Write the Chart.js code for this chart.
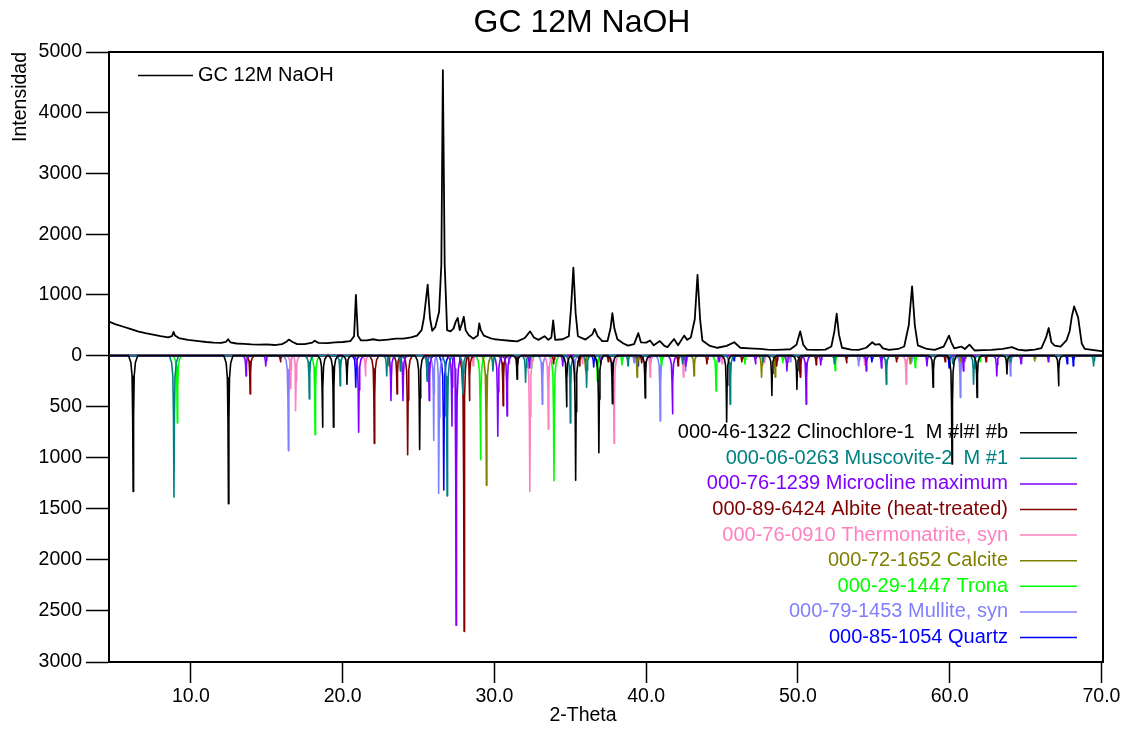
<!DOCTYPE html>
<html><head><meta charset="utf-8">
<script src="https://cdn.jsdelivr.net/npm/chart.js@4/dist/chart.umd.min.js"></script>
<style>html,body{margin:0;padding:0;background:#fff}#c{display:block}</style>
</head><body>
<canvas id="c" width="1128" height="729"></canvas>
<script>
// ---------- DATA ----------
const chartTitle = 'GC 12M NaOH';
const xAxisTitle = '2-Theta';
const yAxisTitle = 'Intensidad';
const xTicks = [10, 20, 30, 40, 50, 60, 70];
const yTicksUpper = [0, 1000, 2000, 3000, 4000, 5000];
const yTicksLower = [500, 1000, 1500, 2000, 2500, 3000];

const sampleName = 'GC 12M NaOH';
const sampleTheta = [4.6,5.0,5.5,6.0,6.5,7.0,7.5,8.0,8.5,8.75,8.85,8.95,9.2,9.8,10.5,11.0,11.5,12.0,12.3,12.45,12.6,13.0,13.5,14.0,14.5,15.0,15.5,16.0,16.3,16.45,16.7,17.0,17.5,18.0,18.15,18.4,19.0,19.5,20.0,20.5,20.75,20.87,21.0,21.2,21.6,22.0,22.4,23.0,23.5,24.0,24.5,24.9,25.2,25.35,25.6,25.75,25.9,26.1,26.35,26.5,26.6,26.72,26.88,27.1,27.3,27.45,27.58,27.71,27.85,27.98,28.1,28.3,28.6,28.9,29.0,29.1,29.3,29.7,30.0,30.4,31.0,31.5,32.0,32.35,32.6,32.9,33.3,33.55,33.75,33.87,34.0,34.5,34.9,35.05,35.2,35.35,35.5,36.0,36.45,36.6,36.8,37.1,37.45,37.65,37.77,37.9,38.1,38.5,38.8,39.2,39.48,39.65,40.0,40.25,40.5,40.9,41.2,41.4,41.83,42.1,42.5,42.7,42.94,43.2,43.38,43.55,43.7,44.2,44.7,45.3,45.8,46.2,46.8,47.5,48.0,48.5,49.0,49.5,49.9,50.15,50.35,50.6,51.2,51.8,52.2,52.4,52.55,52.7,52.9,53.5,54.0,54.5,54.9,55.1,55.37,55.6,56.0,56.6,57.0,57.3,57.52,57.7,57.9,58.5,59.0,59.6,59.95,60.1,60.3,60.76,61.0,61.3,61.64,62.2,62.74,63.5,64.1,64.5,65.0,65.6,66.04,66.35,66.52,66.7,66.92,67.3,67.69,67.9,68.05,68.2,68.46,68.7,68.9,69.5,70.0,70.1];
const sampleCounts = [560,520,480,440,400,370,345,320,300,320,390,330,290,260,240,225,215,210,225,270,220,200,195,185,180,185,175,190,230,265,225,190,190,215,245,210,205,220,225,240,320,1000,330,250,250,270,250,265,280,280,300,330,420,620,1170,620,410,470,720,1500,4700,1500,420,400,445,560,620,420,520,640,420,340,280,330,530,420,330,290,270,260,245,235,290,400,300,260,320,260,300,580,260,270,320,800,1450,700,320,265,350,440,320,240,240,450,700,450,270,200,165,190,370,220,215,250,170,240,160,140,275,170,330,260,300,600,1330,600,250,160,130,160,220,130,120,110,100,95,100,105,180,400,180,100,95,100,150,400,690,350,130,100,95,130,220,180,190,120,95,110,150,500,1140,500,170,110,95,150,330,220,120,150,110,180,85,90,95,110,140,100,85,100,125,300,455,220,165,150,250,400,650,810,630,200,110,90,75,75];

const phaseNames = [
  '000-46-1322 Clinochlore-1  M #l#I #b',
  '000-06-0263 Muscovite-2  M #1',
  '000-76-1239 Microcline maximum',
  '000-89-6424 Albite (heat-treated)',
  '000-76-0910 Thermonatrite, syn',
  '000-72-1652 Calcite',
  '000-29-1447 Trona',
  '000-79-1453 Mullite, syn',
  '000-85-1054 Quartz'
];
const phaseColors = ['#000000','#008080','#8000FF','#800000','#FF80C0','#808000','#00FF00','#8080FF','#0000FF'];

const clinochlorePos = [6.19,12.47,18.67,19.39,20.28,25.07,31.49,34.75,35.35,36.88,37.77,39.93,45.30,48.28,49.93,58.90,60.15,61.80,63.77,67.17];
const clinochloreInt = [1330,1450,700,700,280,920,230,500,1220,950,470,415,650,390,330,310,1060,410,180,295];
const muscovitePos = [8.88,17.80,19.83,22.90,23.80,25.56,26.88,27.92,29.90,32.05,35.00,36.07,38.80,42.40,45.53,47.70,52.40,55.82,60.20,61.57,64.00,69.48];
const muscoviteInt = [1385,425,295,200,150,250,1375,375,150,260,660,310,100,80,475,60,80,280,80,280,60,100];
const microclinePos = [13.63,14.93,21.05,23.18,23.97,25.70,27.20,27.47,30.22,30.83,32.30,34.50,37.00,41.73,42.60,44.80,47.20,49.27,50.54,51.50,54.50,55.50,58.50,60.90,63.10,64.70,66.50];
const microclineInt = [200,100,750,440,440,440,690,2640,790,590,120,100,80,570,100,60,80,150,475,90,150,120,100,150,200,80,60];
const albitePos = [13.90,15.90,22.08,23.58,24.28,28.00,28.35,30.57,31.50,33.90,35.60,37.50,39.70,42.10,44.00,46.30,48.60,50.15,51.20,53.20,56.50,59.70,62.40];
const albiteInt = [375,60,860,375,970,2700,440,490,80,80,100,60,70,100,80,60,100,210,90,70,60,60,60];
const thermonatritePos = [16.58,16.90,21.50,28.60,32.33,33.55,35.80,37.88,40.26,42.45,45.00,47.80,54.40,57.13];
const thermonatriteInt = [325,540,200,100,1330,720,80,860,210,210,80,70,90,280];
const calcitePos = [23.05,29.47,36.00,39.40,43.15,47.60,48.50,57.40,60.70,61.00,64.70,65.60];
const calciteInt = [100,1270,150,212,200,212,210,80,60,60,50,50];
const tronaPos = [9.10,18.18,29.08,32.46,33.92,36.78,38.40,41.00,44.60,46.50,49.00,52.45,57.73,62.00];
const tronaInt = [660,775,1020,120,1225,250,90,100,345,80,70,147,118,60];
const mullitePos = [16.42,26.00,26.33,30.96,33.15,35.27,37.00,39.20,40.92,42.60,49.50,54.00,57.50,60.70,64.00];
const mulliteInt = [930,830,1350,80,475,250,80,70,640,150,60,100,60,410,200];
const quartzPos = [20.86,26.66,36.54,39.46,40.29,42.45,45.79,50.14,54.87,59.96,67.74,68.14];
const quartzInt = [310,1316,110,100,60,80,50,170,60,120,80,100];

// ---------- BUILD ----------
const X_MIN = 4.6, X_MAX = 70.1;
const UP_MAX = 5000, LOW_MAX = 3000;
// lower (reference) half uses a stretched scale: 306px per 3000 vs 303.3px per 5000
const K = (306 / LOW_MAX) / (303.3 / UP_MAX);
const FONT = "'Liberation Sans', Arial, Helvetica, sans-serif";
// peak profile shape (offset in degrees, fraction of peak height)
const SHAPE = [[0.30, 0], [0.15, 0.05], [0.07, 0.15], [0.03, 0.45]];

function profile(pos, inten) {
  const pts = [{x: X_MIN, y: 0}];
  for (let i = 0; i < pos.length; i++) {
    const x = pos[i], I = inten[i] * K;
    const gL = i > 0 ? (x - pos[i-1]) / 2 : 1;
    const gR = i < pos.length - 1 ? (pos[i+1] - x) / 2 : 1;
    const sL = Math.min(1, gL / 0.3), sR = Math.min(1, gR / 0.3);
    SHAPE.forEach(([d, f]) => pts.push({x: x - d * sL, y: -f * I}));
    pts.push({x: x, y: -I});
    SHAPE.slice().reverse().forEach(([d, f]) => pts.push({x: x + d * sR, y: -f * I}));
  }
  pts.push({x: X_MAX, y: 0});
  return pts;
}
const phasePos = [clinochlorePos, muscovitePos, microclinePos, albitePos, thermonatritePos, calcitePos, tronaPos, mullitePos, quartzPos];
const phaseInt = [clinochloreInt, muscoviteInt, microclineInt, albiteInt, thermonatriteInt, calciteInt, tronaInt, mulliteInt, quartzInt];

const datasets = [{
  label: sampleName,
  data: sampleTheta.map((t, i) => ({x: t, y: sampleCounts[i]})),
  borderColor: '#000', borderWidth: 1.8, pointRadius: 0, tension: 0
}];
phaseNames.forEach((n, i) => datasets.push({
  label: n, data: profile(phasePos[i], phaseInt[i]),
  borderColor: phaseColors[i], borderWidth: 1.6, pointRadius: 0, tension: 0
}));

const decor = {
  id: 'decor',
  afterDraw(chart) {
    const ctx = chart.ctx, a = chart.chartArea;
    ctx.save();
    ctx.strokeStyle = '#000'; ctx.lineWidth = 2;
    ctx.beginPath();
    ctx.moveTo(a.left, a.top); ctx.lineTo(a.right, a.top); ctx.lineTo(a.right, a.bottom);
    ctx.stroke();
    ctx.fillStyle = '#000';
    ctx.textAlign = 'center'; ctx.textBaseline = 'middle';
    ctx.font = '32px ' + FONT;
    ctx.fillText(chartTitle, 582, 23);
    ctx.font = '19.5px ' + FONT;
    ctx.fillText(xAxisTitle, 583, 716);
    ctx.save();
    ctx.translate(21, 97); ctx.rotate(-Math.PI / 2);
    ctx.fillText(yAxisTitle, 0, 0);
    ctx.restore();
    // sample legend (top-left)
    ctx.font = '20px ' + FONT;
    ctx.lineWidth = 1.5;
    ctx.beginPath(); ctx.moveTo(138, 75.5); ctx.lineTo(193, 75.5); ctx.stroke();
    ctx.textAlign = 'left';
    ctx.fillText(sampleName, 198, 75.5);
    // phases legend (right)
    ctx.textAlign = 'right';
    phaseNames.forEach((n, i) => {
      const y = 432.7 + i * 25.6;
      ctx.fillStyle = phaseColors[i]; ctx.strokeStyle = phaseColors[i];
      ctx.fillText(n, 1008, y);
      ctx.beginPath(); ctx.moveTo(1020, y); ctx.lineTo(1077, y); ctx.stroke();
    });
    ctx.restore();
  }
};

new Chart(document.getElementById('c'), {
  type: 'line',
  data: {datasets},
  options: {
    responsive: false, animation: false, devicePixelRatio: 1,
    layout: {padding: {top: 52, right: 25, left: 0, bottom: 0}},
    plugins: {legend: {display: false}, title: {display: false}, tooltip: {enabled: false}},
    elements: {line: {borderJoinStyle: 'round'}},
    scales: {
      x: {
        type: 'linear', min: X_MIN, max: X_MAX,
        afterBuildTicks: s => { s.ticks = xTicks.map(v => ({value: v})); },
        afterFit: s => { s.height = 67; },
        ticks: {color: '#000', font: {family: FONT, size: 19.5}, padding: 2, maxRotation: 0, autoSkip: false,
                callback: v => Number(v).toFixed(1)},
        grid: {drawOnChartArea: false, tickLength: 21, tickColor: '#000', tickWidth: 1.5},
        border: {color: '#000', width: 2}
      },
      y: {
        type: 'linear', min: -LOW_MAX * K, max: UP_MAX,
        afterBuildTicks: s => {
          s.ticks = yTicksLower.slice().reverse().map(v => ({value: -v * K}))
                    .concat(yTicksUpper.map(v => ({value: v})));
        },
        afterFit: s => { s.width = 109; },
        ticks: {color: '#000', font: {family: FONT, size: 19.5}, padding: 4, autoSkip: false,
                callback: v => v < 0 ? String(Math.round(-v / K)) : String(Math.round(v))},
        grid: {drawOnChartArea: false, tickLength: 23, tickColor: '#000', tickWidth: 1.5},
        border: {color: '#000', width: 2}
      }
    }
  },
  plugins: [decor]
});
</script>
</body></html>
